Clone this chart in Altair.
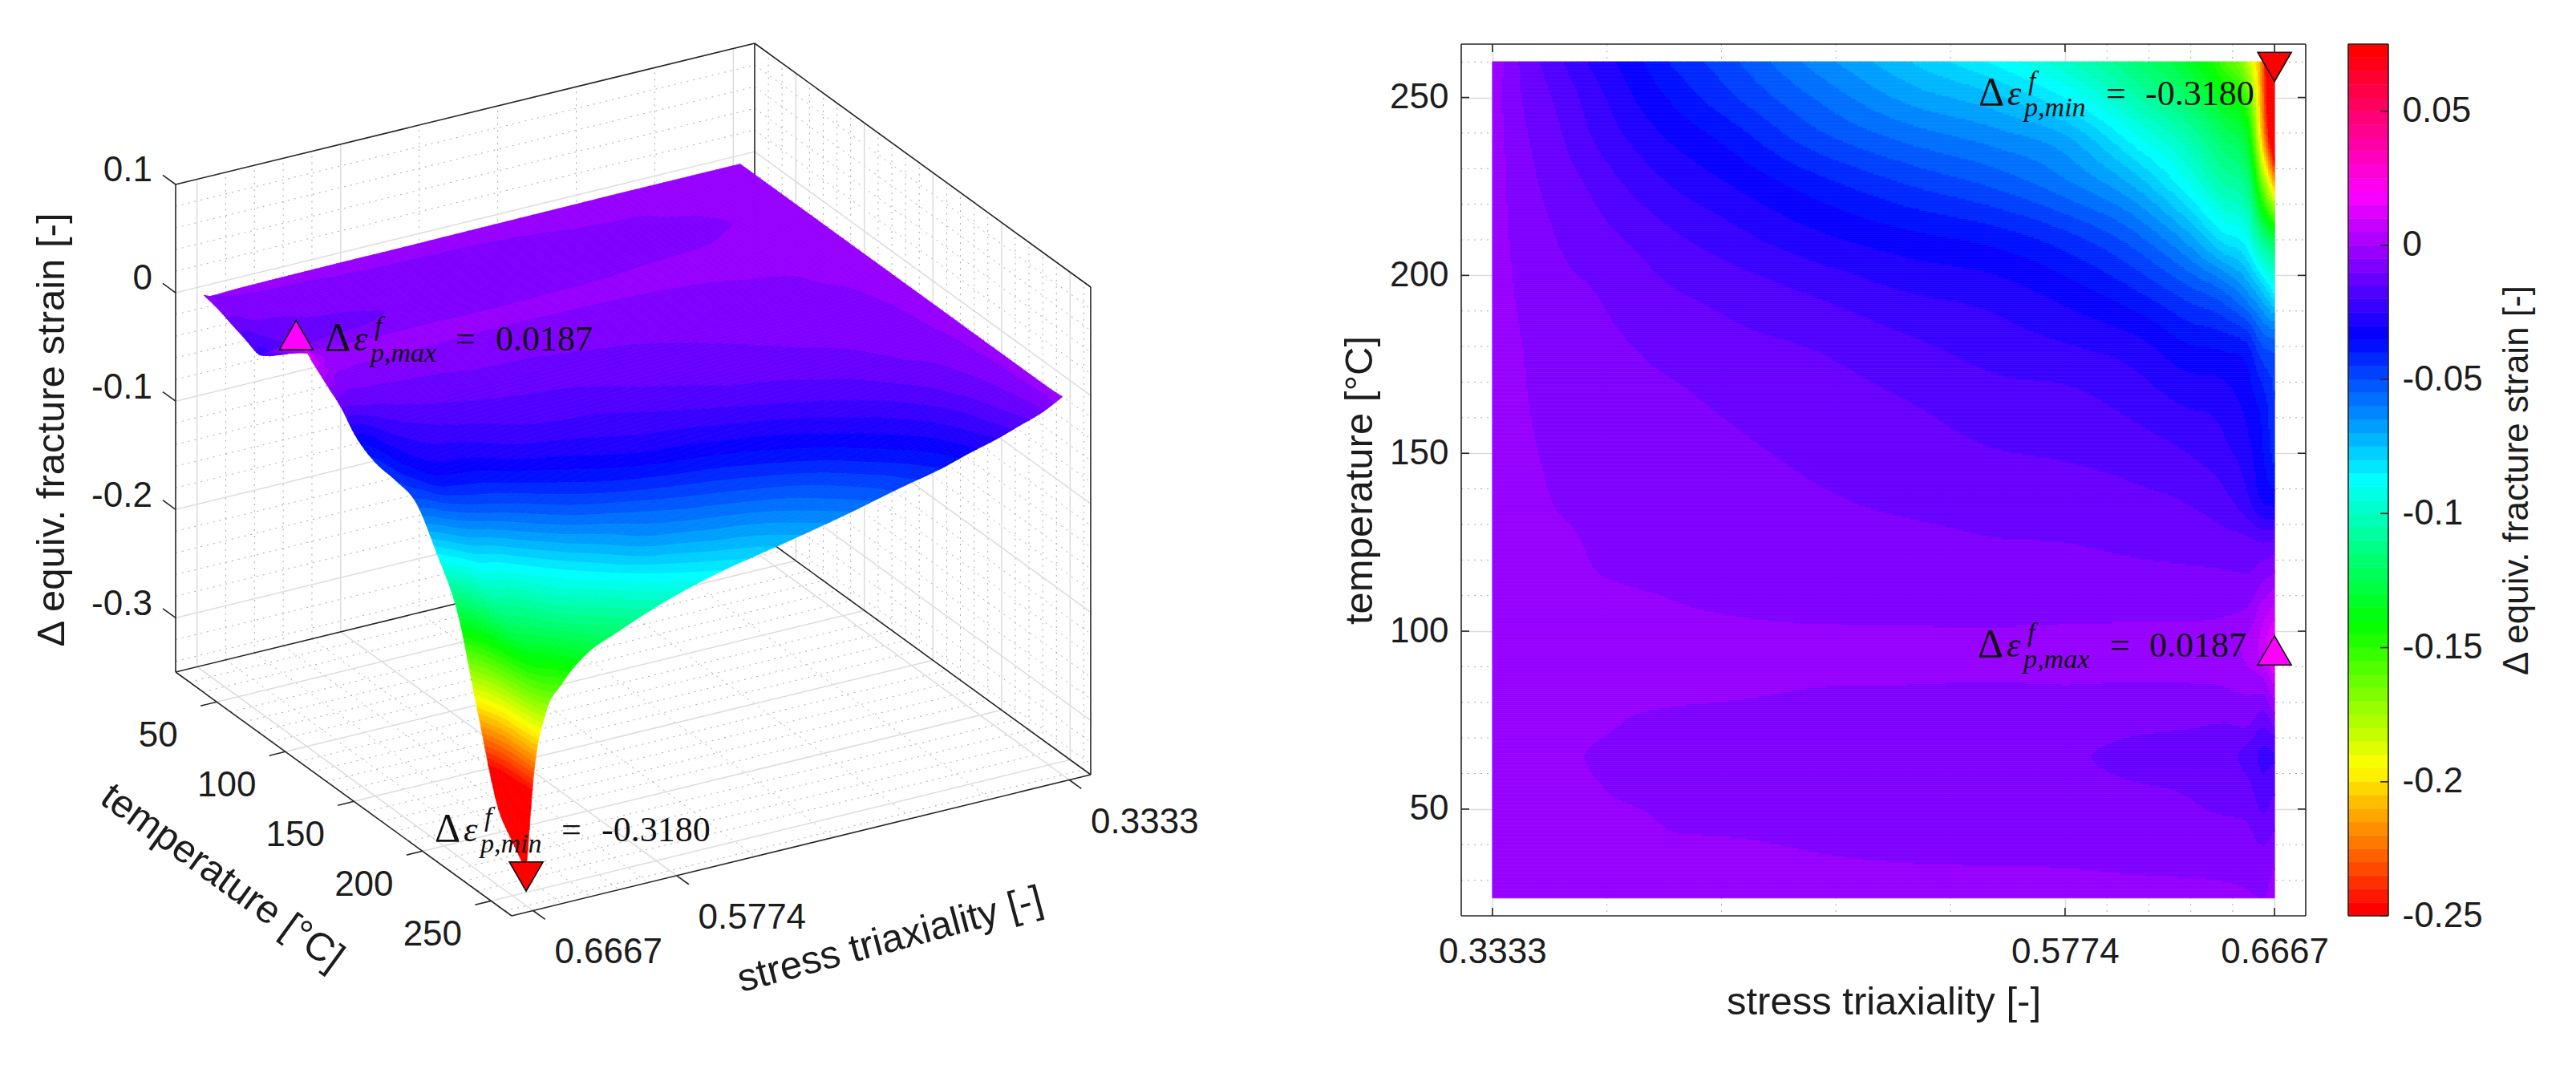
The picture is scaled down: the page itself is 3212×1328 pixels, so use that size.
import colorsys
import numpy as np
import pandas as pd
import altair as alt

alt.data_transformers.disable_max_rows()

# ---------------- values ----------------
TRIAX = [.3333, .345, .36, .375, .39, .41, .43, .47, .51, .55, .5774, .61, .63, .645, .655, .662, .6667]
TEMPS = [25, 35, 45, 55, 65, 75, 85, 95, 105, 115, 125, 135, 150, 165, 180, 195, 210, 225, 240, 250, 260]
Z_T025 = [-.002, -.002, -.002, -.002, -.002, -.002, -.0022, -.0025, -.0028, -.0032, -.0032, -.0035, -.0037, -.004, -.0045, -.005, -.0025]
Z_T035 = [-.002, -.002, -.002, -.0025, -.0027, -.003, -.0032, -.0045, -.005, -.0052, -.0053, -.0058, -.006, -.0062, -.0065, -.0075, -.0055]
Z_T045 = [-.002, -.002, -.0025, -.0033, -.0036, -.0052, -.0055, -.006, -.0063, -.0072, -.0072, -.0082, -.0085, -.009, -.0095, -.013, -.0105]
Z_T055 = [-.002, -.0025, -.003, -.0044, -.0055, -.006, -.0063, -.007, -.0073, -.0085, -.0085, -.0095, -.0103, -.012, -.013, -.018, -.0152]
Z_T065 = [-.002, -.0028, -.0035, -.0052, -.006, -.0063, -.0067, -.0072, -.0075, -.0098, -.0096, -.0115, -.0125, -.0135, -.0165, -.021, -.0203]
Z_T075 = [-.002, -.0025, -.003, -.0037, -.005, -.0056, -.0058, -.006, -.0065, -.0075, -.0072, -.0085, -.009, -.0097, -.0085, -.013, -.0073]
Z_T085 = [-.002, -.002, -.0025, -.003, -.0035, -.004, -.0043, -.0049, -.005, -.0052, -.005, -.0053, -.0052, -.0048, -.0035, -.002, .0057]
Z_T095 = [-.002, -.002, -.0025, -.003, -.0032, -.0035, -.0036, -.0038, -.0038, -.0035, -.003, -.0028, -.0025, -.002, .0015, .008, .0187]
Z_T105 = [-.002, -.0025, -.003, -.0035, -.004, -.0046, -.005, -.0056, -.0058, -.0062, -.006, -.0058, -.0058, -.0053, -.004, .0035, .0077]
Z_T115 = [-.002, -.0025, -.0035, -.0047, -.0052, -.0056, -.0063, -.0072, -.0073, -.008, -.0078, -.0085, -.0088, -.009, -.0095, -.006, -.0033]
Z_T125 = [-.002, -.0025, -.0042, -.0052, -.006, -.0065, -.0073, -.0083, -.0088, -.0098, -.010, -.0112, -.012, -.013, -.0135, -.015, -.014]
Z_T135 = [-.002, -.003, -.005, -.0055, -.0065, -.0072, -.008, -.0093, -.0105, -.0115, -.012, -.0135, -.0148, -.0175, -.0225, -.029, -.030]
Z_T150 = [-.002, -.0038, -.0058, -.0065, -.0075, -.0082, -.009, -.0108, -.0126, -.0148, -.0155, -.0175, -.020, -.0235, -.028, -.035, -.042]
Z_T165 = [-.002, -.0043, -.0067, -.0073, -.0085, -.0092, -.0105, -.0126, -.015, -.018, -.0185, -.0225, -.026, -.0275, -.032, -.038, -.045]
Z_T180 = [-.002, -.0047, -.0075, -.0085, -.0097, -.0115, -.0132, -.0152, -.0188, -.0225, -.0245, -.0285, -.0345, -.036, -.039, -.050, -.052]
Z_T195 = [-.002, -.0056, -.0086, -.0097, -.0118, -.0145, -.0163, -.0203, -.0248, -.0275, -.032, -.040, -.0475, -.054, -.064, -.075, -.085]
Z_T210 = [-.002, -.0066, -.0098, -.0125, -.015, -.0188, -.022, -.0283, -.033, -.037, -.0425, -.054, -.067, -.0815, -.089, -.112, -.125]
Z_T225 = [-.002, -.0075, -.0116, -.0155, -.020, -.025, -.0288, -.0371, -.0445, -.051, -.058, -.072, -.0885, -.104, -.112, -.165, -.205]
Z_T240 = [-.002, -.0085, -.0137, -.020, -.0253, -.0313, -.0363, -.0487, -.0575, -.064, -.0705, -.092, -.106, -.122, -.135, -.215, -.280]
Z_T250 = [-.002, -.0095, -.0155, -.022, -.0285, -.0358, -.0425, -.055, -.0665, -.0745, -.085, -.106, -.120, -.137, -.155, -.225, -.300]
Z_T260 = [-.001, -.0102, -.018, -.0255, -.0315, -.0405, -.047, -.0617, -.0745, -.087, -.099, -.118, -.132, -.154, -.178, -.230, -.318]
Z_ROWS = [Z_T025, Z_T035, Z_T045, Z_T055, Z_T065, Z_T075, Z_T085, Z_T095, Z_T105, Z_T115, Z_T125,
          Z_T135, Z_T150, Z_T165, Z_T180, Z_T195, Z_T210, Z_T225, Z_T240, Z_T250, Z_T260]

T_MAJOR = [50, 100, 150, 200, 250]
T_MINOR = [30, 40, 60, 70, 80, 90, 110, 120, 130, 140, 160, 170, 180, 190, 210, 220, 230, 240, 260]
X_MAJOR = [.3333, .5774, .6667]
X_MINOR = [.38212, .43094, .47976, .52858, .59526, .61312, .63098, .64884]
Z_MAJOR = [-.3, -.2, -.1, 0, .1]
Z_MINOR = [-.34, -.32, -.28, -.26, -.24, -.22, -.18, -.16, -.14, -.12, -.08, -.06, -.04, -.02,
           .02, .04, .06, .08]
CBAR_TICKS = [-.25, -.2, -.15, -.1, -.05, 0, .05]
MAX_VALUE = 0.0187
MIN_VALUE = -0.3180
MAX_AT = (.6667, 94.6)
MIN_AT = (.6667, 258.6)
XLABEL = "stress triaxiality [-]"
TLABEL = "temperature [°C]"
ZLABEL = "Δ equiv. fracture strain [-]"

# ---------------- look ----------------
SANS = "Liberation Sans"
SERIF = "Liberation Serif"
INK = "#1c1c1c"
GRID = "#dcdcdc"
DOTS = "#a8a8a8"
TICK = 44
TITLE = 49
XD = [.32, .68]
TD = [20, 265]
ZD = [-.35, .10]
CD = [-.25, .075]
BAND = .005
NB = 65

W_L, H_L = 1761, 1250
W_R, H_R = 1053, 1087


def band_colour(k):
    r, g, b = colorsys.hsv_to_rgb((k / (NB - 1)) % 1.0, 1, 1)
    return "#%02x%02x%02x" % (round(r * 255), round(g * 255), round(b * 255))


def band_of(z):
    return np.clip(np.floor((np.asarray(z) + .25) / BAND + 1e-9).astype(int), 0, NB - 1)


def slopes(x, y):
    h = np.diff(x)
    d = np.diff(y) / h
    m = np.zeros_like(y)
    m[1:-1] = (h[:-1] * d[1:] + h[1:] * d[:-1]) / (h[:-1] + h[1:])
    m[0], m[-1] = d[0], d[-1]
    for i in range(len(d)):
        for j in (i, i + 1):
            if d[i] == 0:
                m[j] = 0
            elif m[j] * d[i] < 0:
                m[j] = 0
            elif abs(m[j]) > 3 * abs(d[i]):
                m[j] = 3 * d[i]
    return m


def hermite(x, y, q):
    x, y, q = np.asarray(x, float), np.asarray(y, float), np.asarray(q, float)
    m = slopes(x, y)
    i = np.clip(np.searchsorted(x, q) - 1, 0, len(x) - 2)
    h = x[i + 1] - x[i]
    s = (q - x[i]) / h
    return ((2 * s**3 - 3 * s**2 + 1) * y[i] + (s**3 - 2 * s**2 + s) * h * m[i]
            + (-2 * s**3 + 3 * s**2) * y[i + 1] + (s**3 - s**2) * h * m[i + 1])


def resample(tq, Tq):
    z = np.array(Z_ROWS, float)
    a = np.array([hermite(TRIAX, r, tq) for r in z])
    return np.array([hermite(TEMPS, a[:, j], Tq) for j in range(len(tq))]).T


def refine(v, n):
    v = np.asarray(v, float)
    return np.concatenate([np.linspace(v[i], v[i + 1], n, endpoint=False) for i in range(len(v) - 1)] + [[v[-1]]])


# ---------------- left: projection of the box ----------------
def P(t, T, z):
    s = (XD[1] - t) / (XD[1] - XD[0])
    r = (TD[1] - T) / (TD[1] - TD[0])
    h = (z - ZD[0]) / (ZD[1] - ZD[0])
    return 638 + s * 722 - r * 419 - 8, 1140 - s * 176 - r * 304 - h * 608 - 53


def segs(rows):
    out = []
    for a, b in rows:
        ua, va = P(*a)
        ub, vb = P(*b)
        out.append({"x": ua, "y": va, "x2": ub, "y2": vb})
    return pd.DataFrame(out)


def wall_lines(tv, Tv, zv):
    rows = []
    for z in zv:
        rows.append(((XD[1], TD[0], z), (XD[0], TD[0], z)))
        rows.append(((XD[0], TD[0], z), (XD[0], TD[1], z)))
    for t in tv:
        rows.append(((t, TD[0], ZD[0]), (t, TD[0], ZD[1])))
        rows.append(((t, TD[0], ZD[0]), (t, TD[1], ZD[0])))
    for T in Tv:
        rows.append(((XD[0], T, ZD[0]), (XD[0], T, ZD[1])))
        rows.append(((XD[1], T, ZD[0]), (XD[0], T, ZD[0])))
    return segs(rows)


XL = alt.Scale(domain=[0, W_L], range=[0, W_L], nice=False, zero=False)
YL = alt.Scale(domain=[0, H_L], range=[0, H_L], nice=False, zero=False)


def seg_layer(df, **mk):
    return alt.Chart(df).mark_rule(**mk).encode(
        x=alt.X("x:Q", scale=XL, axis=None), y=alt.Y("y:Q", scale=YL, axis=None),
        x2="x2:Q", y2="y2:Q")


def cut(pts, bound, above):
    res = []
    for i in range(len(pts)):
        a, b = pts[i], pts[(i + 1) % len(pts)]
        ka = a[2] >= bound if above else a[2] <= bound
        kb = b[2] >= bound if above else b[2] <= bound
        if ka:
            res.append(a)
        if ka != kb:
            s = (bound - a[2]) / (b[2] - a[2])
            res.append((a[0] + s * (b[0] - a[0]), a[1] + s * (b[1] - a[1]), bound))
    return res


def clip(poly, lo, hi):
    pts = poly
    if lo is not None:
        pts = cut(pts, lo, True)
    if hi is not None and pts:
        pts = cut(pts, hi, False)
    return pts


tf = refine(TRIAX, 5)
Tf = refine(TEMPS, 6)
Zf = resample(tf, Tf)
features = []
for i in range(len(Tf) - 1):
    per_band = {}
    for j in range(len(tf) - 1):
        c = [(tf[j], Tf[i], Zf[i, j]), (tf[j + 1], Tf[i], Zf[i, j + 1]),
             (tf[j + 1], Tf[i + 1], Zf[i + 1, j + 1]), (tf[j], Tf[i + 1], Zf[i + 1, j])]
        sc = [(*P(a, b, z), z) for a, b, z in c]
        for tri in ([sc[0], sc[1], sc[2]], [sc[0], sc[2], sc[3]]):
            zs = [p[2] for p in tri]
            k0, k1 = int(band_of(min(zs))), int(band_of(max(zs)))
            for k in range(k0, k1 + 1):
                lo = None if k == 0 else -.25 + k * BAND
                hi = None if k == NB - 1 else -.25 + (k + 1) * BAND
                pts = tri if k0 == k1 else clip(tri, lo, hi)
                if len(pts) >= 3:
                    ring = [[round(p[0], 1), round(p[1], 1)] for p in pts]
                    ring.append(ring[0])
                    per_band.setdefault(k, []).append([ring])
    for k, polys in per_band.items():
        features.append({"type": "Feature", "properties": {"c": band_colour(k)},
                         "geometry": {"type": "MultiPolygon", "coordinates": polys}})

surface = alt.Chart(alt.Data(values=features)).mark_geoshape(strokeWidth=.7).encode(
    color=alt.Color("properties.c:N", scale=None),
    stroke=alt.Stroke("properties.c:N", scale=None),
).project(type="identity", scale=1, translate=[0, 0])


def rows_text(rows, angle=0, size=TICK, align="center"):
    return alt.Chart(pd.DataFrame(rows)).mark_text(
        font=SANS, fontSize=size, color=INK, align=align, baseline="middle", angle=angle).encode(
        x=alt.X("x:Q", scale=XL, axis=None), y=alt.Y("y:Q", scale=YL, axis=None), text="s:N")


box = [((XD[1], TD[0], ZD[0]), (XD[1], TD[1], ZD[0])), ((XD[1], TD[1], ZD[0]), (XD[0], TD[1], ZD[0])),
       ((XD[0], TD[1], ZD[0]), (XD[0], TD[1], ZD[1])), ((XD[0], TD[1], ZD[1]), (XD[0], TD[0], ZD[1])),
       ((XD[0], TD[0], ZD[1]), (XD[1], TD[0], ZD[1])), ((XD[1], TD[0], ZD[1]), (XD[1], TD[0], ZD[0])),
       ((XD[1], TD[0], ZD[0]), (XD[0], TD[0], ZD[0])), ((XD[0], TD[0], ZD[0]), (XD[0], TD[1], ZD[0])),
       ((XD[0], TD[0], ZD[0]), (XD[0], TD[0], ZD[1]))]
ticks3 = [((XD[1], TD[0] - 0, z), (XD[1], TD[0] - 9.4, z)) for z in Z_MAJOR]
ticks3 += [((XD[1], T, ZD[0]), (XD[1] + .01, T, ZD[0])) for T in T_MAJOR]
ticks3 += [((t, TD[1], ZD[0]), (t, TD[1] + 8.8, ZD[0])) for t in X_MAJOR]

zlab = []
for z in Z_MAJOR:
    u, v = P(XD[1], TD[0] - 9.4, z)
    zlab.append({"x": u - 13, "y": v - 5, "s": ("%g" % z)})
Tlab = []
for T in T_MAJOR:
    u, v = P(XD[1], T, ZD[0])
    Tlab.append({"x": u - 73, "y": v + 43, "s": str(T)})
xlab = []
for t in X_MAJOR:
    u, v = P(t, TD[1], ZD[0])
    xlab.append({"x": u + 94, "y": v + 53, "s": "%.4f" % t})


def math_text(base, dx0, dy0, sub, value, eq, dig):
    pieces = [("Δ", 0, 0, 50, "normal"), ("ε", 36, 0, 44, "italic"), ("f", 62, -19, 34, "italic"),
              (sub, 57, 14, 34, "italic"), ("=", eq, 0, 44, "normal"), (value, dig, 0, 44, "normal")]
    out = []
    for s, dx, dy, size, style in pieces:
        out.append(base.mark_text(text=s, font=SERIF, fontSize=size, fontStyle=style, color="#111111",
                                  align="left", baseline="alphabetic", dx=dx0 + dx, dy=dy0 + dy))
    return out


def tri_point(base, shape, fill):
    return base.mark_point(shape=shape, size=1764, filled=True, fill=fill, stroke="#111111",
                           strokeWidth=1.6, opacity=1)


umax, vmax = P(MAX_AT[0], MAX_AT[1], MAX_VALUE)
umin, vmin = P(MIN_AT[0], 260, MIN_VALUE)
mk_max = pd.DataFrame({"x": [umax - 4], "y": [vmax - 8]})
mk_min = pd.DataFrame({"x": [umin], "y": [vmin + 7]})
enc_l = dict(x=alt.X("x:Q", scale=XL, axis=None), y=alt.Y("y:Q", scale=YL, axis=None))
b_max_l = alt.Chart(mk_max).encode(**enc_l)
b_min_l = alt.Chart(mk_min).encode(**enc_l)

left = alt.layer(
    seg_layer(wall_lines(X_MINOR, T_MINOR, Z_MINOR), color=DOTS, strokeWidth=1, strokeDash=[2, 6]),
    seg_layer(wall_lines(X_MAJOR, T_MAJOR, Z_MAJOR), color=GRID, strokeWidth=1.5),
    seg_layer(segs(box), color="#262626", strokeWidth=1.6),
    seg_layer(segs(ticks3), color="#262626", strokeWidth=1.6),
    surface,
    rows_text(zlab, align="right"), rows_text(Tlab), rows_text(xlab),
    rows_text([{"x": 57, "y": 481, "s": ZLABEL}], angle=270, size=TITLE),
    rows_text([{"x": 269, "y": 1039, "s": TLABEL}], angle=36, size=TITLE),
    rows_text([{"x": 1102, "y": 1117, "s": XLABEL}], angle=345, size=TITLE),
    tri_point(b_max_l, "triangle-up", "#ff00ff"),
    tri_point(b_min_l, "triangle-down", "#ff0000"),
    *math_text(b_max_l, 405 - 8 - (umax - 4), 435 - 53 - (vmax - 8), "p,max", "%.4f" % MAX_VALUE, 163, 213),
    *math_text(b_min_l, 542 - 8 - umin, 1047 - 53 - (vmin + 7), "p,min", "%.4f" % MIN_VALUE, 158, 208),
).properties(width=W_L, height=H_L)

# ---------------- right: filled contour ----------------
XS = alt.Scale(domain=XD, nice=False, zero=False)
TS = alt.Scale(domain=TD, nice=False, zero=False)
CS = alt.Scale(domain=CD, nice=False, zero=False)

DX = 2.5 * (XD[1] - XD[0]) / W_R
DT = 2.5 * (TD[1] - TD[0]) / H_R
tq_edges = np.arange(TRIAX[0], TRIAX[-1] + DX, DX)
tq_edges[-1] = TRIAX[-1]
Tq_edges = np.arange(TEMPS[0], TEMPS[-1] + DT, DT)
Tq_edges[-1] = TEMPS[-1]
tc = (tq_edges[:-1] + tq_edges[1:]) / 2
Tc = (Tq_edges[:-1] + Tq_edges[1:]) / 2
Zr = band_of(resample(tc, Tc))
cells = []
for i in range(len(Tc)):
    row = Zr[i]
    start = 0
    for j in range(1, len(row) + 1):
        if j == len(row) or row[j] != row[start]:
            cells.append((round(tq_edges[start], 5), round(tq_edges[j], 5),
                          round(Tq_edges[i], 2), round(Tq_edges[i + 1], 2), band_colour(int(row[start]))))
            start = j
cells = pd.DataFrame(cells, columns=["x", "x2", "y", "y2", "c"])

AX = dict(labelFont=SANS, labelFontSize=TICK, labelColor=INK, titleFont=SANS, titleFontSize=TITLE,
          titleFontWeight="normal", titleColor=INK, ticks=False, domain=False,
          gridColor=GRID, gridWidth=1.5, grid=True)
# every layer of a panel carries the same axis: one axis=None in a layer would drop the shared axis
XA = alt.Axis(values=X_MAJOR, format=".4f", title=XLABEL, labelPadding=23, titlePadding=16, **AX)
TA = alt.Axis(values=T_MAJOR, format="d", title=TLABEL, labelPadding=16, titlePadding=12, **AX)
CA = alt.Axis(orient="right", values=CBAR_TICKS, labelExpr="'' + round(datum.value * 100) / 100",
              title=ZLABEL, labelPadding=17, titlePadding=65, labelAlign="left", titleAngle=270,
              **dict(AX, grid=False, titleFontSize=44))

field = alt.Chart(cells).mark_rect(strokeWidth=.8).encode(
    x=alt.X("x:Q", scale=XS, axis=XA),
    x2="x2:Q",
    y=alt.Y("y:Q", scale=TS, axis=TA),
    y2="y2:Q",
    color=alt.Color("c:N", scale=None),
    stroke=alt.Stroke("c:N", scale=None),
)


def vlines(vals, y0=None, y1=None, **mk):
    return alt.Chart(pd.DataFrame({"v": vals})).mark_rule(**mk).encode(
        x=alt.X("v:Q", scale=XS, axis=XA),
        y=alt.value(0 if y0 is None else y0), y2=alt.value(H_R if y1 is None else y1))


def hlines(vals, x0=None, x1=None, **mk):
    return alt.Chart(pd.DataFrame({"v": vals})).mark_rule(**mk).encode(
        y=alt.Y("v:Q", scale=TS, axis=TA),
        x=alt.value(0 if x0 is None else x0), x2=alt.value(W_R if x1 is None else x1))


def frame(w, h, colour="#262626", sw=1.6):
    one = pd.DataFrame({"a": [0]})
    return [
        alt.Chart(one).mark_rule(color=colour, strokeWidth=sw).encode(x=alt.value(0), x2=alt.value(w), y=alt.value(0)),
        alt.Chart(one).mark_rule(color=colour, strokeWidth=sw).encode(x=alt.value(0), x2=alt.value(w), y=alt.value(h)),
        alt.Chart(one).mark_rule(color=colour, strokeWidth=sw).encode(y=alt.value(0), y2=alt.value(h), x=alt.value(0)),
        alt.Chart(one).mark_rule(color=colour, strokeWidth=sw).encode(y=alt.value(0), y2=alt.value(h), x=alt.value(w)),
    ]


enc_r = dict(x=alt.X("x:Q", scale=XS, axis=XA), y=alt.Y("y:Q", scale=TS, axis=TA))
b_max_r = alt.Chart(pd.DataFrame({"x": [MAX_AT[0]], "y": [MAX_AT[1]]})).encode(**enc_r)
b_min_r = alt.Chart(pd.DataFrame({"x": [MIN_AT[0]], "y": [MIN_AT[1]]})).encode(**enc_r)

right = alt.layer(
    vlines(X_MINOR, color=DOTS, strokeWidth=1, strokeDash=[2, 6]),
    hlines(T_MINOR, color=DOTS, strokeWidth=1, strokeDash=[2, 6]),
    field,
    vlines(X_MAJOR, 0, 10, color="#262626", strokeWidth=1.6),
    vlines(X_MAJOR, H_R - 10, H_R, color="#262626", strokeWidth=1.6),
    hlines(T_MAJOR, 0, 10, color="#262626", strokeWidth=1.6),
    hlines(T_MAJOR, W_R - 10, W_R, color="#262626", strokeWidth=1.6),
    *frame(W_R, H_R),
    tri_point(b_max_r, "triangle-up", "#ff00ff"),
    tri_point(b_min_r, "triangle-down", "#ff0000"),
    *math_text(b_max_r, 2467 - 2837, 819 - 811, "p,max", "%.4f" % MAX_VALUE, 165, 214),
    *math_text(b_min_r, 2468 - 2837, 129 - 81, "p,min", "%.4f" % MIN_VALUE, 159, 208),
).properties(width=W_R, height=H_R)

# ---------------- colour bar ----------------
bar = pd.DataFrame({"y": [-.25 + k * BAND for k in range(NB)],
                    "y2": [-.25 + (k + 1) * BAND for k in range(NB)],
                    "c": [band_colour(k) for k in range(NB)]})
cbar = alt.layer(
    alt.Chart(bar).mark_rect(strokeWidth=.6).encode(
        x=alt.value(0), x2=alt.value(50),
        y=alt.Y("y:Q", scale=CS, axis=CA),
        y2="y2:Q", color=alt.Color("c:N", scale=None), stroke=alt.Stroke("c:N", scale=None)),
    alt.Chart(pd.DataFrame({"v": CBAR_TICKS})).mark_rule(color="#262626", strokeWidth=1.6).encode(
        y=alt.Y("v:Q", scale=CS, axis=CA), x=alt.value(40), x2=alt.value(50)),
    *frame(50, H_R),
).properties(width=50, height=H_R)

chart = alt.hconcat(left, right, cbar, spacing=53, bounds="flush").properties(
    padding={"left": 0, "top": 45, "right": 40, "bottom": 0}, background="white"
).configure_view(stroke=None)

chart.save("out.html", embed_options={"renderer": "svg", "actions": False})
